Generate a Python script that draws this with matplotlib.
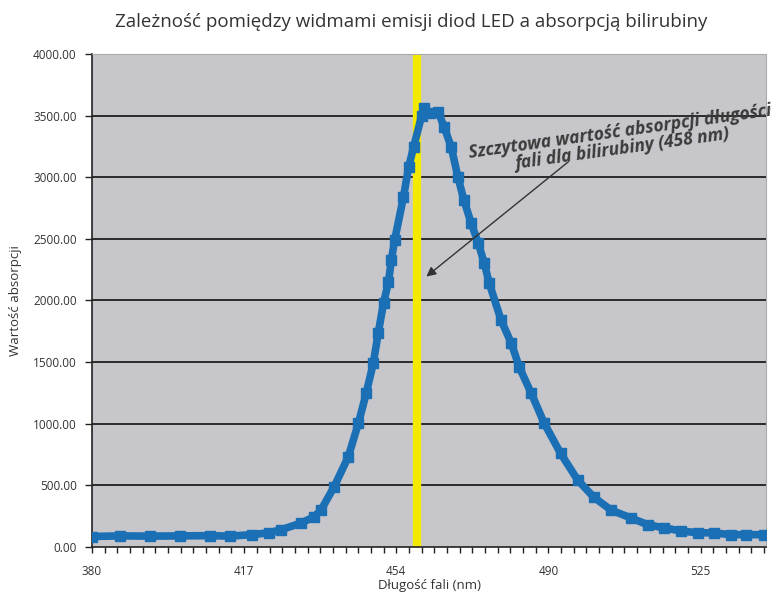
import matplotlib.pyplot as plt
import numpy as np
from matplotlib.ticker import FixedLocator, FuncFormatter

plt.rcParams['font.family'] = ['Open Sans', 'DejaVu Sans']

# dane
wavelength = [380.0, 386.8, 394.1, 401.4, 408.7, 413.6, 418.8, 423.0, 426.0, 430.9,
              434.0, 435.7, 438.9, 442.3, 444.8, 446.7, 448.4, 449.6, 450.9, 452.1,
              452.8, 453.6, 455.7, 456.9, 458.1, 460.0, 460.6, 462.0, 463.9, 465.3,
              467.0, 468.6, 470.0, 471.7, 473.4, 474.8, 476.0, 478.8, 481.2, 483.1,
              485.9, 489.0, 492.8, 496.7, 500.4, 504.4, 509.0, 512.9, 516.6, 520.5,
              524.4, 528.0, 531.9, 535.5, 539.5]
absorption = [85, 90, 88, 90, 92, 88, 100, 115, 140, 195,
              245, 300, 490, 730, 1005, 1250, 1490, 1735, 1980, 2150,
              2330, 2490, 2840, 3080, 3245, 3500, 3560, 3520, 3530, 3410,
              3245, 3000, 2815, 2630, 2465, 2305, 2140, 1840, 1655, 1460,
              1250, 1005, 760, 545, 405, 300, 235, 180, 155, 130,
              115, 115, 100, 100, 100]

tick_labels = [380, 417, 454, 490, 525]
peak_nm = 459
y_ticks = [0, 500, 1000, 1500, 2000, 2500, 3000, 3500, 4000]

# os X z Excela: etykiety rozmieszczone rowno (os kategorii)
anchor_nm = np.array(tick_labels + [560])
anchor_pos = np.arange(len(anchor_nm), dtype=float)


def fwd(x):
    return np.interp(x, anchor_nm, anchor_pos)


def inv(p):
    return np.interp(p, anchor_pos, anchor_nm)


blue = '#1b6fb5'
txt_color = '#333333'

fig = plt.figure(figsize=(7.8, 5.98), dpi=100)
ax = fig.add_axes([0.118, 0.0853, 0.864, 0.8244])
ax.set_facecolor('#c7c7cb')
ax.set_xscale('function', functions=(fwd, inv))

# linie siatki
for y in y_ticks[1:-1]:
    ax.axhline(y, color='#2a2a2a', linewidth=1.4, zorder=1)

ax.axvline(peak_nm, color='#f2ea00', linewidth=6, zorder=2)

ax.plot(wavelength, absorption, color=blue, linewidth=5.5, marker='s',
        markersize=6.5, zorder=3)

ax.set_xlim(380, inv(4.43))
ax.set_ylim(0, 4000)

ax.xaxis.set_major_locator(FixedLocator(tick_labels))
ax.xaxis.set_minor_locator(FixedLocator(inv(np.arange(0, 4.43, 1 / 12))))
ax.xaxis.set_major_formatter(FuncFormatter(lambda v, p: f"{v:.0f}"))
ax.set_yticks(y_ticks)
ax.yaxis.set_major_formatter(FuncFormatter(lambda v, p: f"{v:.2f}"))

ax.tick_params(axis='both', which='both', direction='out', length=4,
               width=1, colors='#222222', labelsize=8.5, labelcolor=txt_color)
ax.tick_params(axis='x', which='major', pad=9)
ax.tick_params(axis='y', which='major', length=5, pad=6)

for s in ['left', 'bottom']:
    ax.spines[s].set_color('#222222')
    ax.spines[s].set_linewidth(1.2)
for s in ['top', 'right']:
    ax.spines[s].set_color('#aaaaaa')
    ax.spines[s].set_linewidth(0.8)

ax.set_xlabel("Długość fali (nm)", fontsize=9.5, color=txt_color, labelpad=1)
ax.set_ylabel("Wartość absorpcji", fontsize=9.5, color=txt_color, labelpad=8)
fig.suptitle("Zależność pomiędzy widmami emisji diod LED a absorpcją bilirubiny",
             x=0.527, y=0.978, fontsize=13.5, color=txt_color)

# adnotacja
ax.annotate("", xy=(460.6, 2180), xytext=(495.1, 3140),
            arrowprops=dict(arrowstyle='-|>', color='#333333', lw=1,
                            mutation_scale=14), zorder=4)
ax.text(506.8, 3300, "Szczytowa wartość absorpcji długości\nfali dla bilirubiny (458 nm)",
        rotation=8, ha='center', va='center', multialignment='center',
        fontsize=12.5, fontweight='bold', fontstyle='italic', color='#3a3a3a',
        linespacing=1.0, clip_on=False, zorder=5)

plt.savefig("out.png", dpi=100)
